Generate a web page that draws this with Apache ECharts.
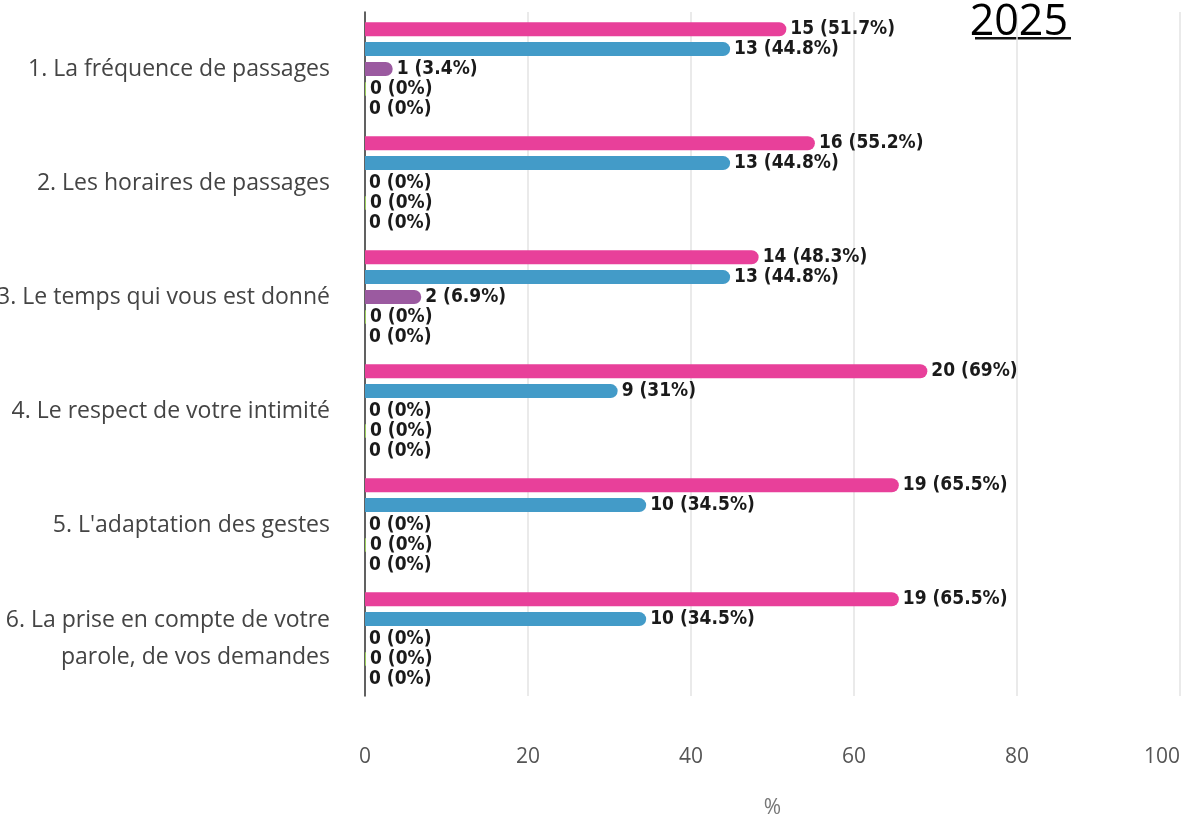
<!DOCTYPE html>
<html>
<head>
<meta charset="utf-8">
<script src="https://cdn.jsdelivr.net/npm/echarts@6/dist/echarts.min.js"></script>
<style>
  html, body { margin: 0; padding: 0; background: #ffffff; }
  #chart { width: 1183px; height: 817px; }
</style>
</head>
<body>
<div id="chart"></div>
<script>
// Satisfaction items (top to bottom)
const categories = [
  "1. La fréquence de passages",
  "2. Les horaires de passages",
  "3. Le temps qui vous est donné",
  "4. Le respect de votre intimité",
  "5. L'adaptation des gestes",
  "6. La prise en compte de votre\nparole, de vos demandes"
];

// Answer counts per item for each response level
const countsA = [15, 16, 14, 20, 19, 19];
const countsB = [13, 13, 13, 9, 10, 10];
const countsC = [1, 0, 2, 0, 0, 0];
const countsD = [0, 0, 0, 0, 0, 0];
const countsE = [0, 0, 0, 0, 0, 0];

// Share of respondents (%) per item for each response level
const pctA = [51.7, 55.2, 48.3, 69, 65.5, 65.5];
const pctB = [44.8, 44.8, 44.8, 31, 34.5, 34.5];
const pctC = [3.4, 0, 6.9, 0, 0, 0];
const pctD = [0, 0, 0, 0, 0, 0];
const pctE = [0, 0, 0, 0, 0, 0];

const xTicks = [0, 20, 40, 60, 80, 100];
const colors = ["#e8409a", "#439bc8", "#9b5aa0", "#9ccf5e", "#b0b0b0"];

function makeSeries(pcts, counts, color, minH) {
  return {
    type: "bar",
    data: pcts.map((p, i) => ({ value: p, count: counts[i] })),
    barWidth: 14,
    barGap: "42%",
    barMinHeight: minH,
    itemStyle: { color: color, borderRadius: [0, 7, 7, 0] },
    label: {
      show: true,
      position: "right",
      distance: 4,
      color: "#1a1a1a",
      fontFamily: "DejaVu Sans Condensed, DejaVu Sans, sans-serif",
      fontWeight: "bold",
      fontSize: 19,
      formatter: (prm) => prm.data.count + " (" + prm.data.value + "%)"
    },
    emphasis: { disabled: true }
  };
}

const chart = echarts.init(document.getElementById("chart"), null, { renderer: "canvas" });

chart.setOption({
  animation: false,
  backgroundColor: "#ffffff",
  grid: { left: 365, right: 3, top: 12, bottom: 121, containLabel: false, outerBoundsMode: "none" },
  title: {
    text: "2025",
    right: 110,
    top: -4,
    textStyle: {
      fontFamily: "Open Sans, sans-serif",
      fontWeight: "normal",
      fontSize: 43,
      color: "#000000"
    }
  },
  graphic: [{
    type: "rect",
    shape: { x: 975, y: 37, width: 96, height: 2.5 },
    style: { fill: "#111111" }
  }],
  xAxis: {
    type: "value",
    min: xTicks[0],
    max: xTicks[xTicks.length - 1],
    interval: 20,
    name: "%",
    nameLocation: "middle",
    nameGap: 102,
    nameTextStyle: { color: "#777777", fontSize: 21, fontFamily: "Open Sans, sans-serif" },
    axisLine: { show: false },
    axisTick: { show: false },
    axisLabel: {
      margin: 51,
      color: "#555555",
      fontSize: 21,
      fontFamily: "Open Sans, sans-serif",
      alignMaxLabel: "right"
    },
    splitLine: { show: true, lineStyle: { color: "#e3e3e3", width: 1.5 } }
  },
  yAxis: {
    type: "category",
    data: categories,
    inverse: true,
    axisLine: { show: true, lineStyle: { color: "#333333", width: 1.5 } },
    axisTick: { show: false },
    axisLabel: {
      margin: 35,
      color: "#444444",
      fontSize: 23,
      lineHeight: 37,
      fontFamily: "Open Sans, sans-serif",
      align: "right"
    }
  },
  series: [
    makeSeries(pctA, countsA, colors[0], 0),
    makeSeries(pctB, countsB, colors[1], 0),
    makeSeries(pctC, countsC, colors[2], 0),
    makeSeries(pctD, countsD, colors[3], 1),
    makeSeries(pctE, countsE, colors[4], 0)
  ]
});
</script>
</body>
</html>
